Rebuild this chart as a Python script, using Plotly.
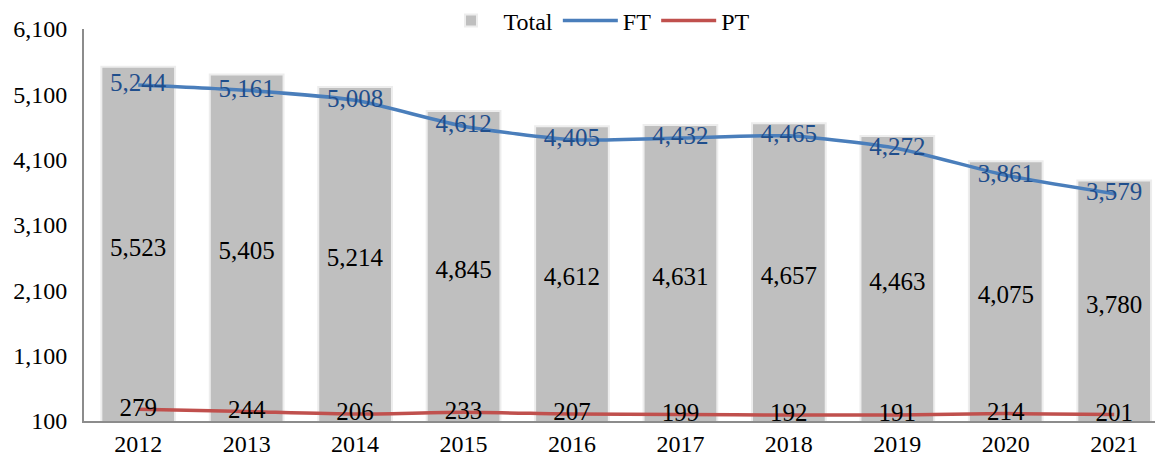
import plotly.graph_objects as go

years = ["2012", "2013", "2014", "2015", "2016", "2017", "2018", "2019", "2020", "2021"]
total = [5523, 5405, 5214, 4845, 4612, 4631, 4657, 4463, 4075, 3780]
ft = [5244, 5161, 5008, 4612, 4405, 4432, 4465, 4272, 3861, 3579]
pt = [279, 244, 206, 233, 207, 199, 192, 191, 214, 201]
tick_vals = [100, 1100, 2100, 3100, 4100, 5100, 6100]

font_family = "Liberation Serif, Times New Roman, serif"

fig = go.Figure()
fig.add_trace(go.Bar(
    x=years, y=total, name="Total",
    marker=dict(color="#BFBFBF", line=dict(color="#EDEDED", width=2)),
    text=[f"{v:,}" for v in total], textposition="inside",
    insidetextanchor="middle",
    textfont=dict(family=font_family, size=25, color="black"),
    width=0.68,
))
fig.add_trace(go.Scatter(
    x=years, y=ft, name="FT", mode="lines+text",
    line=dict(color="#4A7EBB", width=3.5, shape="spline", smoothing=0.6),
    text=[f"{v:,}" for v in ft], textposition="middle center",
    textfont=dict(family=font_family, size=25, color="#1F4E8C"),
))
fig.add_trace(go.Scatter(
    x=years, y=pt, name="PT", mode="lines+text",
    line=dict(color="#C0504D", width=3.5, shape="spline", smoothing=0.6),
    text=[f"{v:,}" for v in pt], textposition="middle center",
    textfont=dict(family=font_family, size=25, color="black"),
))

fig.update_layout(
    width=1155, height=454,
    margin=dict(l=76, r=0, t=21, b=41, autoexpand=False),
    plot_bgcolor="white", paper_bgcolor="white",
    font=dict(family=font_family, size=24, color="black"),
    showlegend=True,
    legend=dict(orientation="h", x=0.475, xanchor="center", y=1.078, yanchor="top",
                font=dict(family=font_family, size=24), itemwidth=55,
                bgcolor="rgba(255,255,255,0)", borderwidth=0),
)
fig.update_yaxes(range=[100, 6100], tickvals=tick_vals,
                 ticktext=[f"{v:,}" for v in tick_vals],
                 showgrid=False, zeroline=False, showline=True,
                 linecolor="#8C8C8C", linewidth=2,
                 tickfont=dict(family=font_family, size=24), ticks="",
                 ticklabelstandoff=10)
fig.update_xaxes(showgrid=False, showline=True, linecolor="#8C8C8C", linewidth=2,
                 tickfont=dict(family=font_family, size=24), ticks="",
                 range=[-0.5, 9.45])

fig.write_html("out.html")
